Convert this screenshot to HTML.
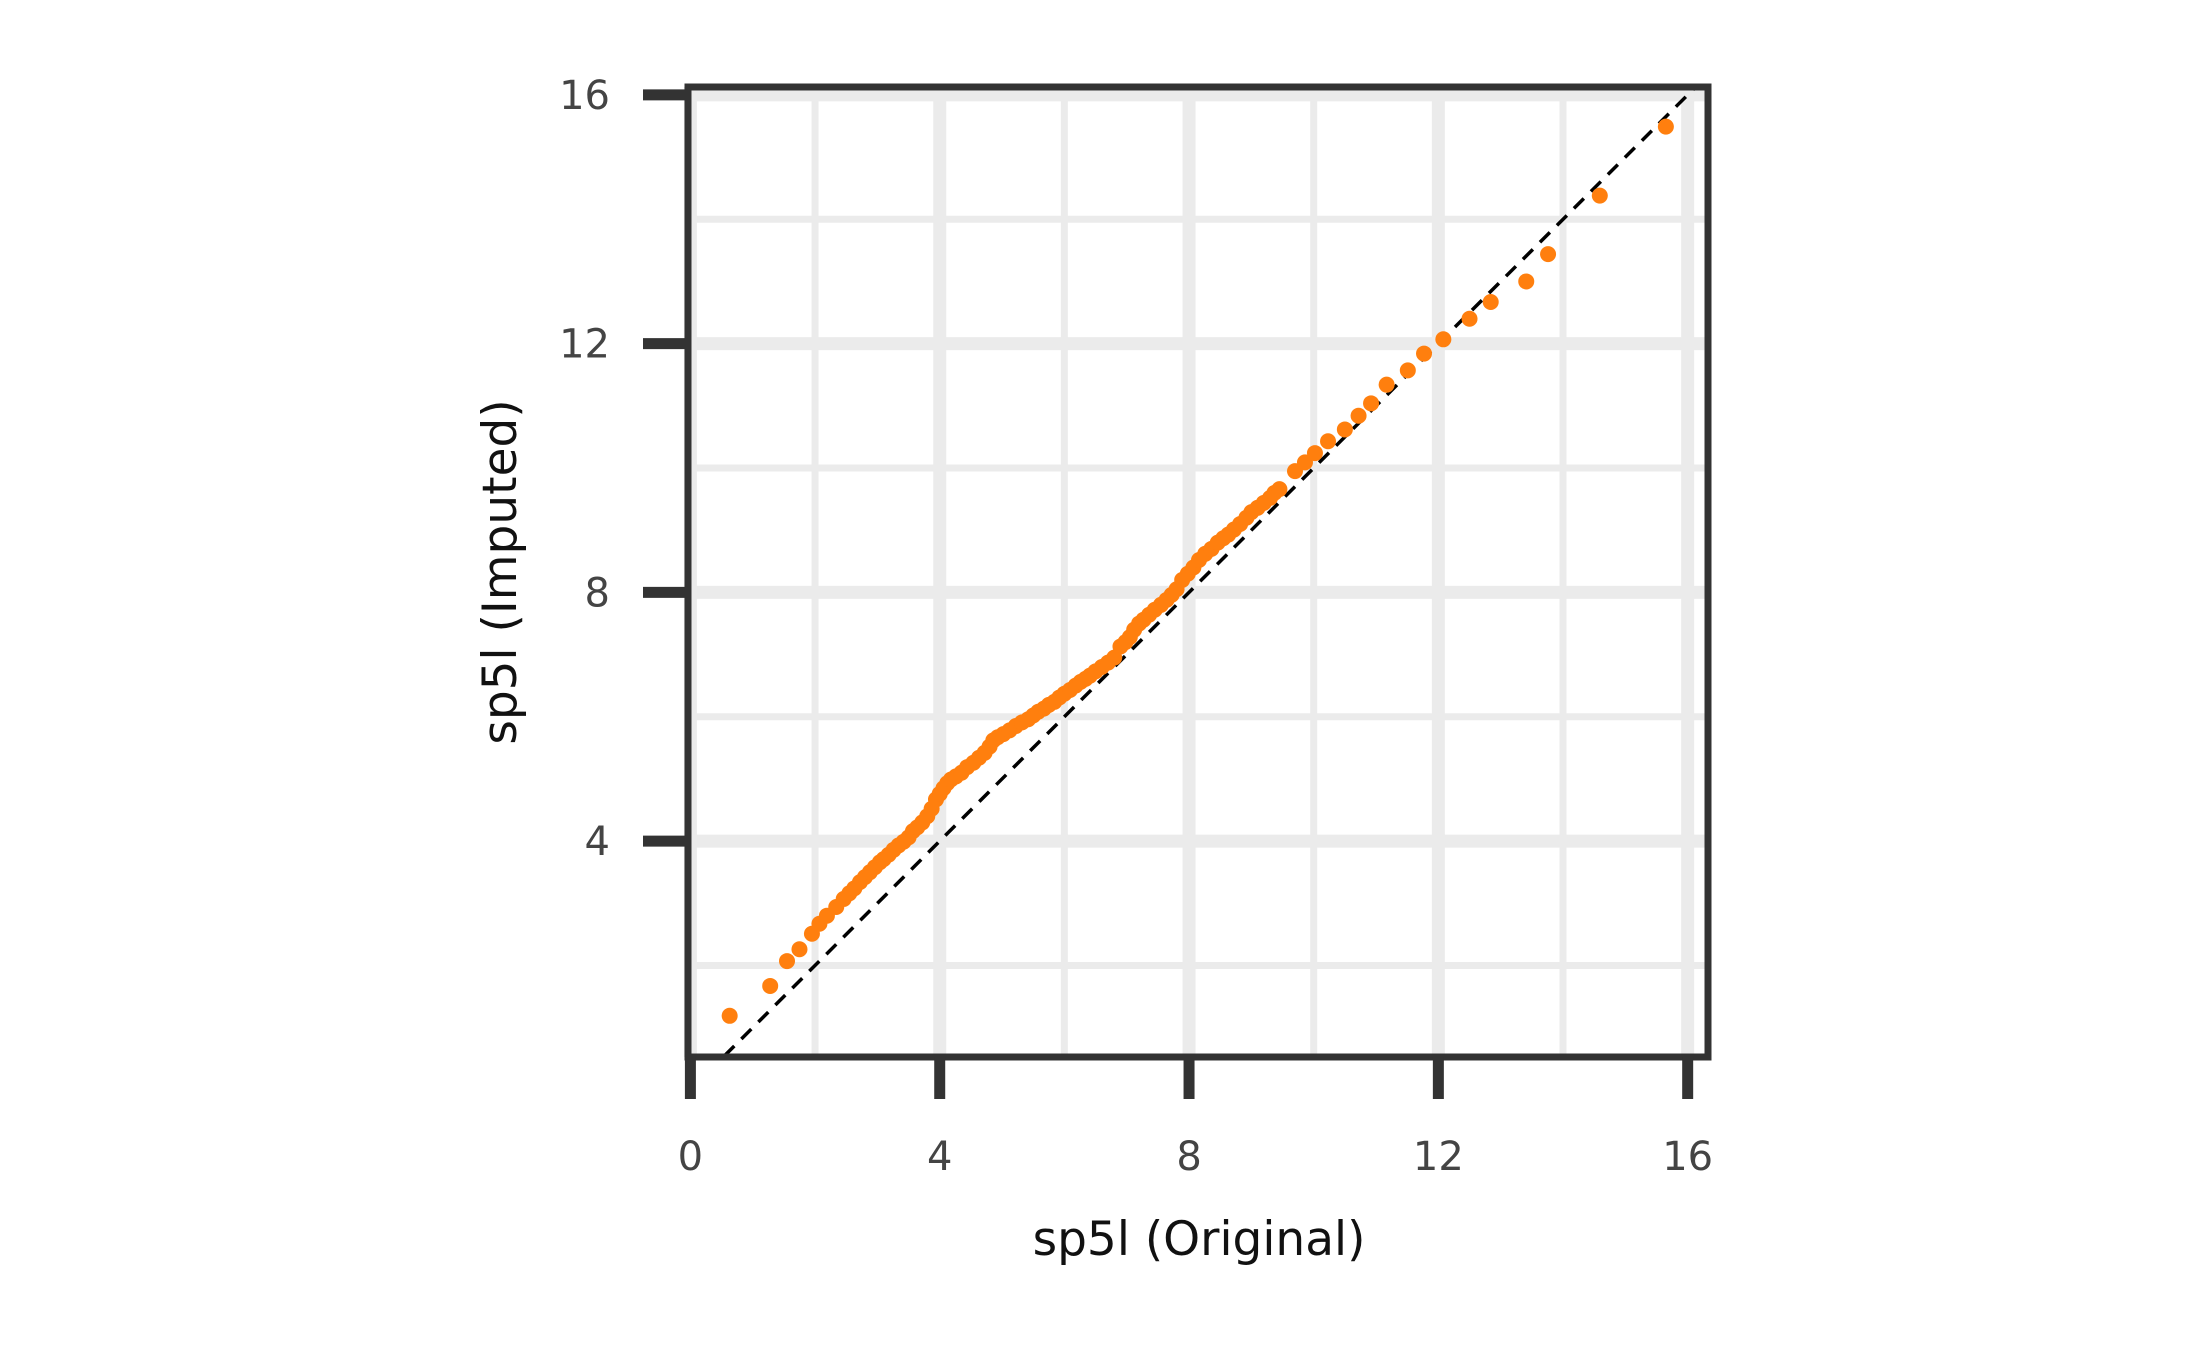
<!DOCTYPE html>
<html><head><meta charset="utf-8"><style>
html,body{margin:0;padding:0;background:#fff;}
svg{display:block;}
text{font-family:"DejaVu Sans","Liberation Sans",sans-serif;}
</style></head><body>
<svg id="chart" width="2187" height="1350" viewBox="0 0 2187 1350" xmlns="http://www.w3.org/2000/svg">
<g id="grid"></g>
<g id="ref"></g>
<g id="pts"></g>
<g id="axes"></g>
<text x="1199" y="1255" font-size="47" text-anchor="middle" fill="#111">sp5l (Original)</text>
<text transform="translate(516,572) rotate(-90)" font-size="47" text-anchor="middle" fill="#111">sp5l (Imputed)</text>
</svg>
<script>
const xTicks=[0,4,8,12,16];
const yTicks=[4,8,12,16];
const xMinor=[2,6,10,14];
const yMinor=[2,6,10,14];
const origVals=[0.63,1.28,1.55,1.75,1.95,2.07,2.19,2.34,2.46,2.55,2.63,2.72,2.80,2.88,2.96,3.04,3.10,3.18,3.26,3.34,3.42,3.50,3.57,3.64,3.72,3.80,3.87,3.94,4.00,4.06,4.12,4.18,4.26,4.35,4.44,4.54,4.63,4.72,4.80,4.86,4.93,5.02,5.12,5.22,5.32,5.42,5.50,5.58,5.67,5.75,5.84,5.92,6.00,6.09,6.18,6.26,6.34,6.41,6.50,6.60,6.70,6.80,6.90,6.98,7.05,7.12,7.20,7.27,7.36,7.45,7.55,7.64,7.72,7.80,7.89,7.98,8.07,8.16,8.26,8.36,8.46,8.55,8.63,8.72,8.82,8.92,9.00,9.10,9.20,9.30,9.37,9.45,9.70,9.86,10.02,10.23,10.50,10.72,10.92,11.17,11.51,11.77,12.08,12.50,12.84,13.41,13.76,14.59,15.65];
const imputedVals=[1.19,1.67,2.07,2.26,2.51,2.67,2.80,2.94,3.07,3.16,3.24,3.34,3.42,3.50,3.58,3.66,3.71,3.78,3.86,3.93,3.99,4.06,4.16,4.22,4.30,4.40,4.52,4.67,4.76,4.85,4.93,4.99,5.04,5.10,5.19,5.26,5.34,5.42,5.52,5.62,5.67,5.72,5.78,5.85,5.91,5.96,6.02,6.08,6.13,6.19,6.24,6.31,6.37,6.43,6.50,6.56,6.61,6.66,6.73,6.80,6.87,6.95,7.13,7.20,7.28,7.40,7.50,7.56,7.64,7.72,7.80,7.88,7.96,8.05,8.20,8.30,8.40,8.52,8.62,8.70,8.80,8.87,8.93,9.01,9.10,9.20,9.29,9.36,9.44,9.52,9.60,9.66,9.95,10.09,10.24,10.43,10.62,10.84,11.04,11.34,11.57,11.84,12.07,12.40,12.67,13.00,13.44,14.38,15.49];

const NS="http://www.w3.org/2000/svg";
const X0=690.4, XU=62.33, Y0=1089.8, YU=62.18;
const fx=v=>X0+v*XU, fy=v=>Y0-v*YU;
const L=688, R=1708, T=87, B=1057;
function mk(tag,attrs,parent){const e=document.createElementNS(NS,tag);for(const k in attrs)e.setAttribute(k,attrs[k]);parent.appendChild(e);return e;}
const grid=document.getElementById('grid'), axes=document.getElementById('axes'), pts=document.getElementById('pts'), ref=document.getElementById('ref');

xMinor.forEach(v=>{const l=mk('line',{x1:fx(v),x2:fx(v),y1:T,y2:B,stroke:'#ebebeb','stroke-width':7},grid);

});
yMinor.forEach(v=>{const l=mk('line',{x1:L,x2:R,y1:fy(v),y2:fy(v),stroke:'#ebebeb','stroke-width':7},grid);

});
xTicks.forEach(v=>{const l=mk('line',{x1:fx(v),x2:fx(v),y1:T,y2:B,stroke:'#ebebeb','stroke-width':13},grid);

});
yTicks.forEach(v=>{const l=mk('line',{x1:L,x2:R,y1:fy(v),y2:fy(v),stroke:'#ebebeb','stroke-width':13},grid);

});

const cp=mk('clipPath',{id:'clip'},ref);mk('rect',{x:L,y:T,width:R-L,height:B-T},cp);
const rl=mk('line',{x1:fx(0),y1:fy(0),x2:fx(17),y2:fy(17),stroke:'#000','stroke-width':3.5,'stroke-dasharray':'14,10','clip-path':'url(#clip)'},ref);



origVals.forEach((v,i)=>{const c=mk('circle',{cx:fx(v),cy:fy(imputedVals[i]),r:8,fill:'#ff7f0e'},pts);

});

const fr=mk('rect',{x:L,y:T,width:R-L,height:B-T,fill:'none',stroke:'#333','stroke-width':7},axes);


xTicks.forEach(v=>{const t=mk('line',{x1:fx(v),x2:fx(v),y1:B,y2:1099,stroke:'#333','stroke-width':11},axes);


const tx=mk('text',{x:fx(v),y:1170,'font-size':40,'text-anchor':'middle',fill:'#444'},axes);tx.textContent=v;

});
yTicks.forEach(v=>{const t=mk('line',{x1:643,x2:L,y1:fy(v),y2:fy(v),stroke:'#333','stroke-width':11},axes);


const tx=mk('text',{x:610,y:fy(v)+14,'font-size':40,'text-anchor':'end',fill:'#444'},axes);tx.textContent=v;

});
</script>
</body></html>
